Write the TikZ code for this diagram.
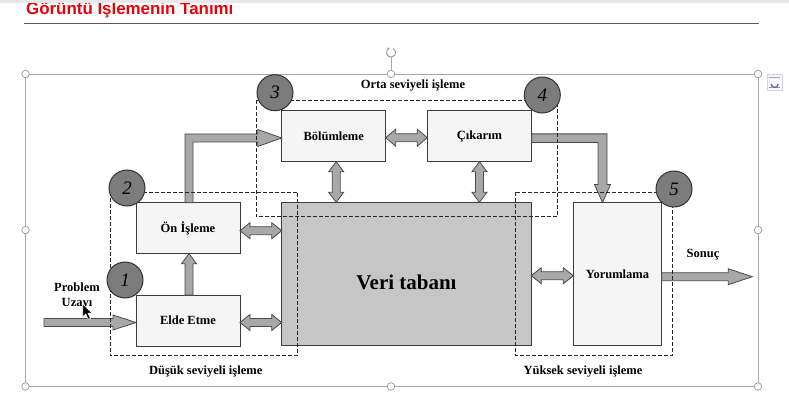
\documentclass[tikz,border=0pt]{standalone}
\usepackage{fontspec}
\setmainfont{Liberation Serif}
\newfontfamily\titlefont{Liberation Sans}
\usetikzlibrary{calc,arrows.meta}
\definecolor{boxline}{HTML}{3C3C3C}
\definecolor{boxfill}{HTML}{F5F5F5}
\definecolor{verifill}{HTML}{C6C6C6}
\definecolor{arrfill}{HTML}{A8A8A8}
\definecolor{arrline}{HTML}{4A4A4A}
\definecolor{numfill}{HTML}{7C7C7C}
\definecolor{framec}{HTML}{A8A8A8}
\definecolor{titlered}{HTML}{E8000B}
\tikzset{
  box/.style={draw=boxline, line width=1pt, fill=boxfill, inner sep=0pt, outer sep=0pt,
    font=\fontsize{12.5}{14}\selectfont\bfseries},
  fat/.style={draw=arrline, fill=arrfill, line width=0.8pt, line join=miter},
  dashbox/.style={draw=black!85, line width=0.9pt, dash pattern=on 4pt off 2pt},
  num/.style={circle, draw=black!80, fill=numfill, line width=1pt, minimum size=36pt,
    inner sep=0pt, font=\fontsize{19}{20}\selectfont\itshape},
  lbl/.style={font=\fontsize{12.5}{14}\selectfont\bfseries, inner sep=0pt},
  handle/.style={circle, draw=framec!90!black, fill=white, minimum size=7.5pt, inner sep=0pt, line width=0.7pt}
}
% single fat arrow from #1 to #2; head length #3, head half width #4, shaft half width #5
\newcommand\sgarr[5]{%
  \coordinate (sa) at ($(#2)!#3!(#1)$);
  \draw[fat] ($(#1)!#5!90:(#2)$) -- ($(sa)!#5!90:(#2)$) -- ($(sa)!#4!90:(#2)$) -- (#2)
    -- ($(sa)!#4!-90:(#2)$) -- ($(sa)!#5!-90:(#2)$) -- ($(#1)!#5!-90:(#2)$) -- cycle;}
% double fat arrow
\newcommand\dbarr[5]{%
  \coordinate (da1) at ($(#1)!#3!(#2)$);
  \coordinate (da2) at ($(#2)!#3!(#1)$);
  \draw[fat] (#1) -- ($(da1)!#4!90:(#2)$) -- ($(da1)!#5!90:(#2)$) -- ($(da2)!#5!-90:(#1)$)
    -- ($(da2)!#4!-90:(#1)$) -- (#2) -- ($(da2)!#4!90:(#1)$) -- ($(da2)!#5!90:(#1)$)
    -- ($(da1)!#5!-90:(#2)$) -- ($(da1)!#4!-90:(#2)$) -- cycle;}
\begin{document}
\begin{tikzpicture}[x=1pt,y=-1pt]
\useasboundingbox (0,0) rectangle (789,414);
\fill[white] (0,0) rectangle (789,414);
% slide title
\node[anchor=base west, inner sep=0pt, text=titlered, font=\titlefont\fontsize{16.9}{18}\selectfont\bfseries] (title) at (26,14.7) {Görüntü İşlemenin Tanımı};
\fill[black!9] (0,0) rectangle (789,3.2);
\draw[black!65, line width=1pt] (24,23.3) -- (759,23.3);
% selection frame
\draw[framec, line width=0.8pt] (25.5,74) rectangle (758,386.5);
\draw[framec, line width=0.8pt] (391,57.5) -- (391,74);

% boxes
\node[box, fill=verifill, minimum width=249.6pt, minimum height=143.4pt] (veri) at (406.5,274) {};
\node[font=\fontsize{21}{24}\selectfont\bfseries, inner sep=0pt] (veritxt) at (406.5,282.5) {Veri tabanı};
\node[box, minimum width=104pt, minimum height=51pt] (elde) at (188,320.5) {Elde Etme};
\node[box, minimum width=104pt, minimum height=51pt] (on) at (188,228.2) {Ön İşleme};
\node[box, minimum width=104pt, minimum height=51pt] (bol) at (333.7,136.2) {Bölümleme};
\node[box, minimum width=104.4pt, minimum height=51pt] (cik) at (479.5,136.2) {Çıkarım};
\node[box, minimum width=88.4pt, minimum height=143.2pt] (yor) at (617.5,274.1) {Yorumlama};

% arrows
\coordinate (inS) at (44,322.5);
\coordinate (inE) at (elde.west |- inS);
\sgarr{inS}{inE}{23pt}{7.5pt}{4pt}
\coordinate (eu1) at ($(elde.north)+(1,0)$);
\coordinate (eu2) at ($(on.south)+(1,0)$);
\sgarr{eu1}{eu2}{10pt}{7.5pt}{4pt}
\coordinate (ov1) at ($(on.east)+(0,2.5)$);
\coordinate (ov2) at (veri.west |- ov1);
\dbarr{ov1}{ov2}{10pt}{8pt}{4pt}
\coordinate (ev1) at ($(elde.east)+(0,2)$);
\coordinate (ev2) at (veri.west |- ev1);
\dbarr{ev1}{ev2}{10pt}{8pt}{4pt}
\coordinate (bc1) at ($(bol.east)+(0,1.5)$);
\coordinate (bc2) at (cik.west |- bc1);
\dbarr{bc1}{bc2}{10pt}{8.5pt}{4pt}
\coordinate (bv1) at ($(bol.south)+(2.5,0)$);
\coordinate (bv2) at (bv1 |- veri.north);
\dbarr{bv1}{bv2}{10pt}{7.5pt}{4pt}
\coordinate (cv1) at (cik.south);
\coordinate (cv2) at (cv1 |- veri.north);
\dbarr{cv1}{cv2}{10pt}{7.5pt}{4pt}
\coordinate (vy1) at ($(veri.east)+(0,1.7)$);
\coordinate (vy2) at (yor.west |- vy1);
\dbarr{vy1}{vy2}{10pt}{8pt}{4pt}
\coordinate (yo1) at ($(yor.east)+(0,2.6)$);
\coordinate (sonucEnd) at (752.3,276.7);
\sgarr{yo1}{sonucEnd}{24pt}{8pt}{4pt}
% elbow: On Isleme -> Bolumleme
\coordinate (ob) at ($(on.north)+(1,0)$);
\coordinate (bw) at ($(bol.west)+(0,1.8)$);
\draw[fat] ($(ob)+(-4,0)$) -- ($(ob |- bw)+(-4,-4)$) -- ($(bw)+(-24,-4)$) -- ($(bw)+(-24,-8.5)$)
  -- (bw) -- ($(bw)+(-24,8.5)$) -- ($(bw)+(-24,4)$) -- ($(ob |- bw)+(4,4)$) -- ($(ob)+(4,0)$) -- cycle;
% elbow: Cikarim -> Yorumlama
\coordinate (yorin) at ($(yor.north)+(-15,0)$);
\coordinate (ce) at ($(cik.east)+(0,2)$);
\draw[fat] ($(ce)+(0,-4.3)$) -- ($(ce -| yorin)+(4.5,-4.3)$) -- ($(yorin)+(4.5,-18)$) -- ($(yorin)+(8,-18)$)
  -- (yorin) -- ($(yorin)+(-8,-18)$) -- ($(yorin)+(-4.5,-18)$) -- ($(ce -| yorin)+(-4.5,4.3)$) -- ($(ce)+(0,4.3)$) -- cycle;

% dashed regions
\draw[dashbox] (110,192) rectangle (297.7,355.7);
\draw[dashbox] (256,100) rectangle (557.3,216.7);
\draw[dashbox] (515.7,192.3) rectangle (672.3,355.7);

% numbered circles
\node[num] (n1) at (125,280) {1};
\node[num] (n2) at (127,188) {2};
\node[num] (n3) at (275,92.7) {3};
\node[num] (n4) at (542.3,95) {4};
\node[num] (n5) at (674,189) {5};

% labels
\node[lbl] (orta) at (413,85.7) {Orta seviyeli işleme};
\node[lbl] (dusuk) at (205.7,371.7) {Düşük seviyeli işleme};
\node[lbl] (yuksek) at (583,371.7) {Yüksek seviyeli işleme};
\node[lbl, align=center, font=\fontsize{12.5}{15}\selectfont\bfseries] (prob) at (77,296.5) {Problem\\Uzayı};
\node[lbl] (sonuc) at (703,255) {Sonuç};

% selection handles
\foreach \hx/\hy [count=\i] in {25.5/74, 391/74, 758/74, 25.5/230, 758/230, 25.5/386.5, 391/386.5, 758/386.5}
  \node[handle] (h\i) at (\hx,\hy) {};
% rotate handle
\draw[framec!90!black, line width=0.9pt, -{Stealth[length=2.2pt,width=3pt]}] (391,52.5) ++(-60:4.6) arc[start angle=-60, end angle=250, radius=4.6];
% layout options icon
\node[draw=framec!60!blue!30!white, fill=blue!3, minimum size=15.5pt, inner sep=0pt, line width=0.6pt] (lay) at (774.7,82.5) {};
\draw[black!35, line width=0.6pt] ($(lay.north west)+(2.5,3)$) -- ($(lay.north east)+(-2.5,3)$);
\draw[blue!40!black!45, line width=0.6pt] ($(lay.south west)+(2.5,-3)$) -- ($(lay.south east)+(-2.5,-3)$);
\draw[black!55, line width=1.3pt] ($(lay.center)+(-3.5,1.5)$) arc[start angle=180, end angle=0, radius=3.5];
% mouse cursor
\draw[fill=black, draw=white, line width=0.6pt, line join=round] (82.7,304) -- ++(0,13) -- ++(3,-3) -- ++(2.6,5.4) -- ++(2.2,-1) -- ++(-2.5,-5.2) -- ++(4.2,0) -- cycle;
\end{tikzpicture}
\end{document}
